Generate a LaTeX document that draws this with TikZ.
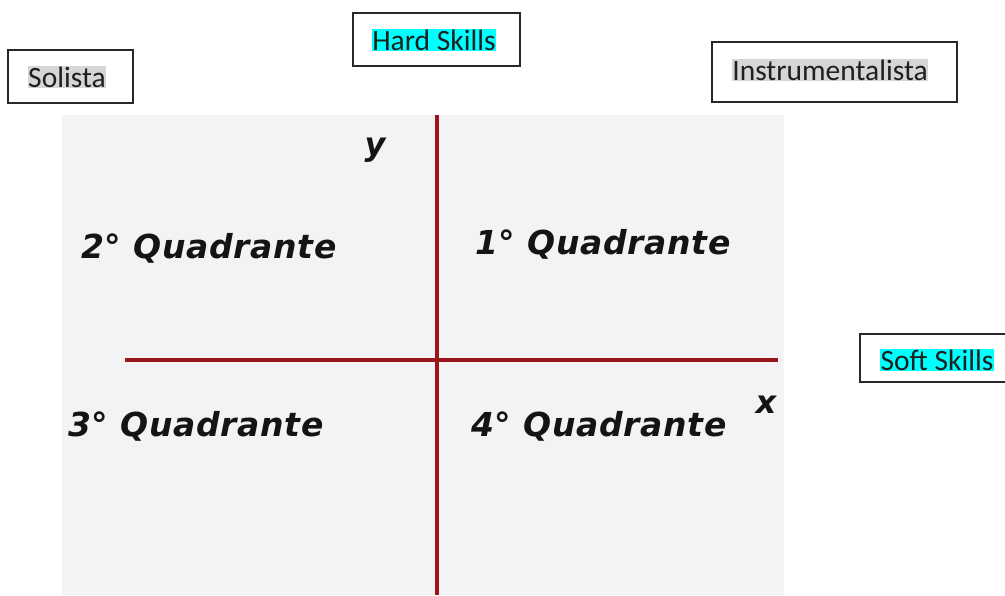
\documentclass[tikz,border=0pt]{standalone}
\usepackage{fontspec}
\setmainfont{Carlito}
\newfontfamily\quadfont[LetterSpace=2]{DejaVu Sans}
\newfontfamily\axfont{DejaVu Sans}
\definecolor{panel}{RGB}{243,243,243}
\definecolor{axisred}{RGB}{155,22,28}
\definecolor{hlgray}{RGB}{214,214,214}
\definecolor{hlcyan}{RGB}{0,255,255}
\definecolor{boxline}{RGB}{40,40,40}
\begin{document}
\begin{tikzpicture}[x=1pt,y=-1pt,
  labelbox/.style={draw=boxline,line width=1.3pt,fill=white,inner sep=0pt},
  hl/.style={inner xsep=0.5pt,inner ysep=1pt,font=\fontsize{29.5}{31}\selectfont,text=black!88},
  quad/.style={font=\quadfont\bfseries\itshape\fontsize{33}{35}\selectfont,text=black!92,inner sep=0pt},
  axlab/.style={font=\axfont\bfseries\itshape\fontsize{32}{34}\selectfont,text=black!92,inner sep=0pt},
  axis/.style={draw=axisred,line width=3.3pt}]
\useasboundingbox (0,0) rectangle (1005,595);
\fill[panel] (62,115) rectangle (784,595);
% axes
\coordinate (ytop) at (437,115);
\coordinate (ybot) at (437,595);
\coordinate (xl) at (125,360);
\coordinate (xr) at (778,360);
\draw[axis] (ytop) -- (ybot);
\draw[axis] (xl) -- (xr);
% axis letters
\node[axlab] (ylab) at (375,150) {y};
\node[axlab] (xlab) at (766,405) {x};
% quadrant labels
\node[quad,anchor=west] (q2) at (81,248) {2° Quadrante};
\node[quad,anchor=west] (q1) at (475,244) {1° Quadrante};
\node[quad,anchor=west] (q3) at (68,426) {3° Quadrante};
\node[quad,anchor=west] (q4) at (471,426) {4° Quadrante};
% boxes
\draw[labelbox] (8,50) rectangle (133,103);
\node[hl,fill=hlgray] (sol) at (67,77) {Solista};
\draw[labelbox] (353,13) rectangle (520,66);
\node[hl,fill=hlcyan] (hard) at (434,40) {Hard Skills};
\draw[labelbox] (712,42) rectangle (957,102);
\node[hl,fill=hlgray] (inst) at (830,70) {Instrumentalista};
\draw[labelbox] (860,334) rectangle (1010,382);
\node[hl,fill=hlcyan] (soft) at (937,360) {Soft Skills};
\end{tikzpicture}
\end{document}
